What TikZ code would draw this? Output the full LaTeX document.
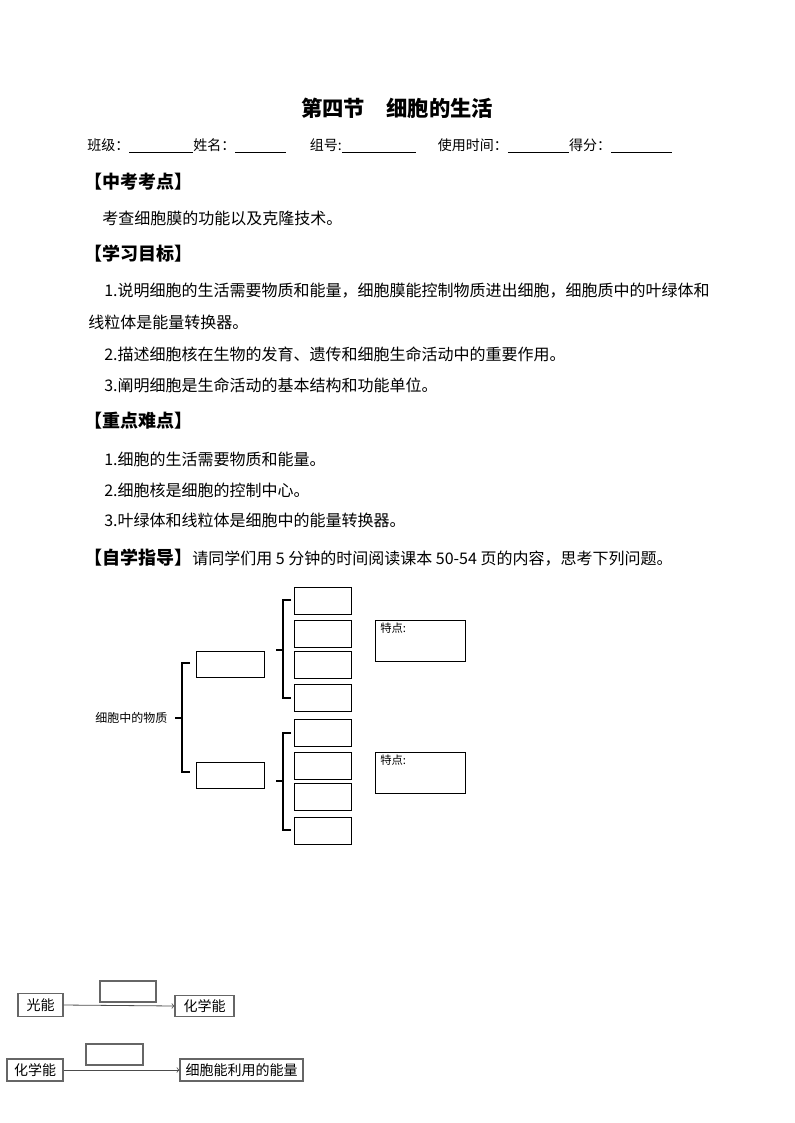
\documentclass[tikz,border=0pt]{standalone}
\usepackage{fontspec}
\setmainfont{Noto Sans CJK SC}
\begin{document}
\begin{tikzpicture}[x=0.75pt,y=-0.75pt,
 tx/.style={anchor=west,inner sep=0,font=\fontsize{12}{14}\selectfont},
 hd/.style={anchor=west,inner sep=0,font=\fontsize{13.5}{15}\selectfont\bfseries},
 bx/.style={draw,line width=0.6pt},
 gb/.style={draw=black!60,line width=0.8pt},
 br/.style={line width=1.2pt}]
\useasboundingbox (0,0) rectangle (794,1123);
\node[inner sep=0,font=\fontsize{16}{18}\selectfont\bfseries] (title) at (397,108) {第四节\quad 细胞的生活};
\node[tx,font=\fontsize{10.5}{12}\selectfont] (hdr) at (87,146) {班级：\underline{\hspace{48pt}}姓名：\underline{\hspace{38pt}}\hspace{18pt}组号:\underline{\hspace{56pt}}\hspace{16pt}使用时间：\underline{\hspace{46pt}}得分：\underline{\hspace{46pt}}};
\node[hd] (h1) at (84,182) {【中考考点】};
\node[tx] (t1) at (102,218) {考查细胞膜的功能以及克隆技术。};
\node[hd] (h2) at (84,254) {【学习目标】};
\node[tx] (t2) at (104,291) {1.说明细胞的生活需要物质和能量，细胞膜能控制物质进出细胞，细胞质中的叶绿体和};
\node[tx] (t3) at (88,322) {线粒体是能量转换器。};
\node[tx] (t4) at (104,354) {2.描述细胞核在生物的发育、遗传和细胞生命活动中的重要作用。};
\node[tx] (t5) at (104,385) {3.阐明细胞是生命活动的基本结构和功能单位。};
\node[hd] (h3) at (84,421) {【重点难点】};
\node[tx] (t6) at (104,459) {1.细胞的生活需要物质和能量。};
\node[tx] (t7) at (104,490) {2.细胞核是细胞的控制中心。};
\node[tx] (t8) at (104,520) {3.叶绿体和线粒体是细胞中的能量转换器。};
\node[hd] (h4) at (84,558) {【自学指导】\mdseries\fontsize{12}{14}\selectfont 请同学们用 5 分钟的时间阅读课本 50-54 页的内容，思考下列问题。};
% diagram
\node[tx,font=\fontsize{9}{10}\selectfont] (root) at (95,718) {细胞中的物质};
\foreach \y [count=\i] in {587,620,651,684,719,752,783,817}
  \draw[bx] (294,\y) rectangle (351,\y+27) coordinate (c\i);
\draw[bx] (196,651) rectangle (264,677);
\draw[bx] (196,762) rectangle (264,788);
\draw[bx] (375,620) rectangle (465,661);
\draw[bx] (375,752) rectangle (465,793);
\node[anchor=north west,inner sep=0,font=\fontsize{8.5}{9}\selectfont] (f1) at (380,623) {特点:};
\node[anchor=north west,inner sep=0,font=\fontsize{8.5}{9}\selectfont] (f2) at (380,755) {特点:};
\draw[br] (190,663) -- (182,663) -- (182,772) -- (190,772);
\draw[br] (175,718) -- (182,718);
\draw[br] (291,600) -- (283,600) -- (283,698) -- (291,698);
\draw[br] (276,650) -- (283,650);
\draw[br] (291,733) -- (283,733) -- (283,830) -- (291,830);
\draw[br] (276,781) -- (283,781);
% energy
\node[gb,minimum width=45*0.75pt,minimum height=23*0.75pt,inner sep=0,font=\fontsize{10.5}{12}\selectfont] (a1) at (40.5,1005) {光能};
\node[gb,minimum width=59*0.75pt,minimum height=21*0.75pt,inner sep=0,font=\fontsize{10.5}{12}\selectfont] (a2) at (204.5,1006) {化学能};
\draw[gb] (100,981) rectangle (156,1002);
\draw[->,black!70,line width=0.6pt] (a1.east) -- (a2.west);
\node[gb,minimum width=56*0.75pt,minimum height=22*0.75pt,inner sep=0,font=\fontsize{10.5}{12}\selectfont] (b1) at (35,1070) {化学能};
\node[gb,minimum width=123*0.75pt,minimum height=22*0.75pt,inner sep=0,font=\fontsize{10.5}{12}\selectfont] (b2) at (241.5,1070) {细胞能利用的能量};
\draw[gb] (86,1044) rectangle (143,1065);
\draw[->,black!70,line width=0.6pt] (b1.east) -- (b2.west);
\end{tikzpicture}
\end{document}
